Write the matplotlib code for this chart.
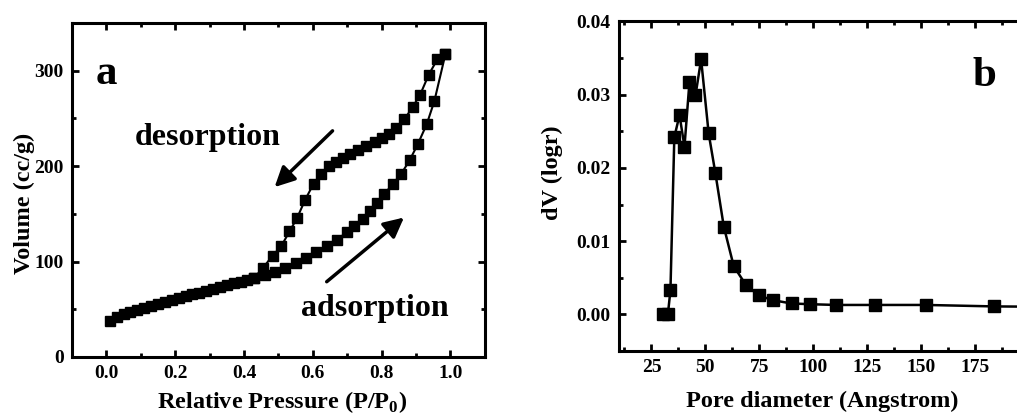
import numpy as np
import matplotlib
matplotlib.use("Agg")
import matplotlib.pyplot as plt
from matplotlib.ticker import MultipleLocator, FixedLocator

plt.rcParams['font.family'] = ['Liberation Serif', 'DejaVu Serif']
plt.rcParams['font.weight'] = 'bold'
plt.rcParams['mathtext.fontset'] = 'custom'
plt.rcParams['mathtext.rm'] = 'Liberation Serif:bold'
plt.rcParams['mathtext.bf'] = 'Liberation Serif:bold'

# (a) isotherm, adsorption branch
p_ads = [0.01, 0.03, 0.05, 0.07, 0.09, 0.11, 0.13, 0.15, 0.17, 0.19, 0.21,
         0.23, 0.25, 0.27, 0.29, 0.31, 0.33, 0.35, 0.37, 0.39, 0.41, 0.43,
         0.46, 0.49, 0.52, 0.55, 0.58, 0.61, 0.64, 0.67, 0.70, 0.72, 0.745,
         0.765, 0.785, 0.808, 0.832, 0.857, 0.881, 0.905, 0.931, 0.953, 0.985]
v_ads = [38, 42, 45, 47, 49.5, 51.5, 53.5, 55.5, 57.5, 59.5, 61.5,
         63.5, 65.5, 67.5, 69.5, 71.5, 73.5, 75, 77, 79, 81, 83,
         86, 89.5, 93.5, 98, 103.5, 109.5, 116, 123, 131, 137, 145,
         153, 161, 171, 181, 192, 206, 223, 244, 268, 317]

# (a) desorption branch
p_des = [0.985, 0.962, 0.937, 0.912, 0.89, 0.866, 0.842, 0.82, 0.80, 0.78,
         0.755, 0.73, 0.708, 0.688, 0.668, 0.648, 0.624, 0.602, 0.578, 0.554,
         0.532, 0.508, 0.483, 0.454, 0.43]
v_des = [317, 312, 296, 275, 262, 249, 240, 234, 229, 225,
         221, 217, 213, 209, 204, 200, 192, 181.5, 165, 145.5,
         131.5, 116, 106, 93, 83]

# (b) pore size distribution
d_pore = [30.5, 32.6, 33.8, 35.6, 38.0, 40.3, 42.6, 45.4, 48.0, 51.5, 54.6,
          58.5, 63.1, 68.8, 74.7, 81.2, 89.9, 98.6, 110.5, 128.7, 152.2,
          183.8, 230.0]
dv = [0.0, 0.0, 0.0033, 0.0242, 0.0272, 0.0229, 0.0317, 0.0299, 0.0348,
      0.0247, 0.0193, 0.0120, 0.0066, 0.0040, 0.0026, 0.00195, 0.0015,
      0.0014, 0.0013, 0.0013, 0.0013, 0.0011, 0.0010]
d_ticks = [25, 50, 75, 100, 125, 150, 175]

fig = plt.figure(figsize=(10.17, 4.18), dpi=100)
ax1 = fig.add_axes([0.0708, 0.146, 0.406, 0.799])
ax2 = fig.add_axes([0.6087, 0.160, 0.5096, 0.789])


def style(ax):
    for s in ax.spines.values():
        s.set_linewidth(2.2)
    ax.tick_params(which='both', direction='in', top=True, right=True,
                   width=2, labelsize=14)
    ax.tick_params(which='major', length=5, pad=6)
    ax.tick_params(which='minor', length=3)


ax1.plot(p_ads, v_ads, '-s', color='k', lw=1.5, ms=7)
ax1.plot(p_des, v_des, '-s', color='k', lw=1.5, ms=7)
ax1.set_xlim(-0.1, 1.1)
ax1.set_ylim(0, 350)
ax1.xaxis.set_major_locator(MultipleLocator(0.2))
ax1.xaxis.set_minor_locator(MultipleLocator(0.1))
ax1.yaxis.set_major_locator(MultipleLocator(100))
ax1.yaxis.set_minor_locator(MultipleLocator(50))
ax1.xaxis.set_major_formatter(matplotlib.ticker.FormatStrFormatter('%.1f'))
style(ax1)
ax1.set_xlabel(r'Relative Pressure (P/P$_\mathregular{0}$)', fontsize=17.5,
               fontweight='bold')
ax1.set_ylabel('Volume (cc/g)', fontsize=17.5, fontweight='bold')
ax1.xaxis.set_label_coords(0.508, -0.095)
ax1.yaxis.set_label_coords(-0.09, 0.461)
ax1.text(0.0, 297, 'a', fontsize=31, fontweight='bold', ha='center', va='center')
ax1.text(0.294, 230, 'desorption', fontsize=23, fontweight='bold',
         ha='center', va='center')
ax1.text(0.779, 51, 'adsorption', fontsize=23, fontweight='bold',
         ha='center', va='center')
ax1.annotate('', xy=(0.483, 176), xytext=(0.663, 239),
             arrowprops=dict(arrowstyle='-|>', lw=2.5, color='k',
                             mutation_scale=30))
ax1.annotate('', xy=(0.871, 148), xytext=(0.634, 77),
             arrowprops=dict(arrowstyle='-|>', lw=2.5, color='k',
                             mutation_scale=30))

ax2.plot(d_pore, dv, '-s', color='k', lw=1.8, ms=8)
ax2.set_xlim(10, 250)
ax2.set_ylim(-0.005, 0.04)
ax2.xaxis.set_major_locator(FixedLocator(d_ticks))
ax2.xaxis.set_minor_locator(MultipleLocator(12.5))
ax2.yaxis.set_major_locator(MultipleLocator(0.01))
ax2.yaxis.set_minor_locator(MultipleLocator(0.005))
ax2.yaxis.set_major_formatter(matplotlib.ticker.FormatStrFormatter('%.2f'))
style(ax2)
ax2.set_xlabel('Pore diameter (Angstrom)', fontsize=17.5, fontweight='bold')
ax2.set_ylabel('dV (logr)', fontsize=17.5, fontweight='bold')
ax2.xaxis.set_label_coords(0.392, -0.12)
ax2.yaxis.set_label_coords(-0.108, 0.542)
ax2.text(179, 0.0326, 'b', fontsize=31, fontweight='bold', ha='center', va='center')

fig.savefig('out.png', dpi=100)
